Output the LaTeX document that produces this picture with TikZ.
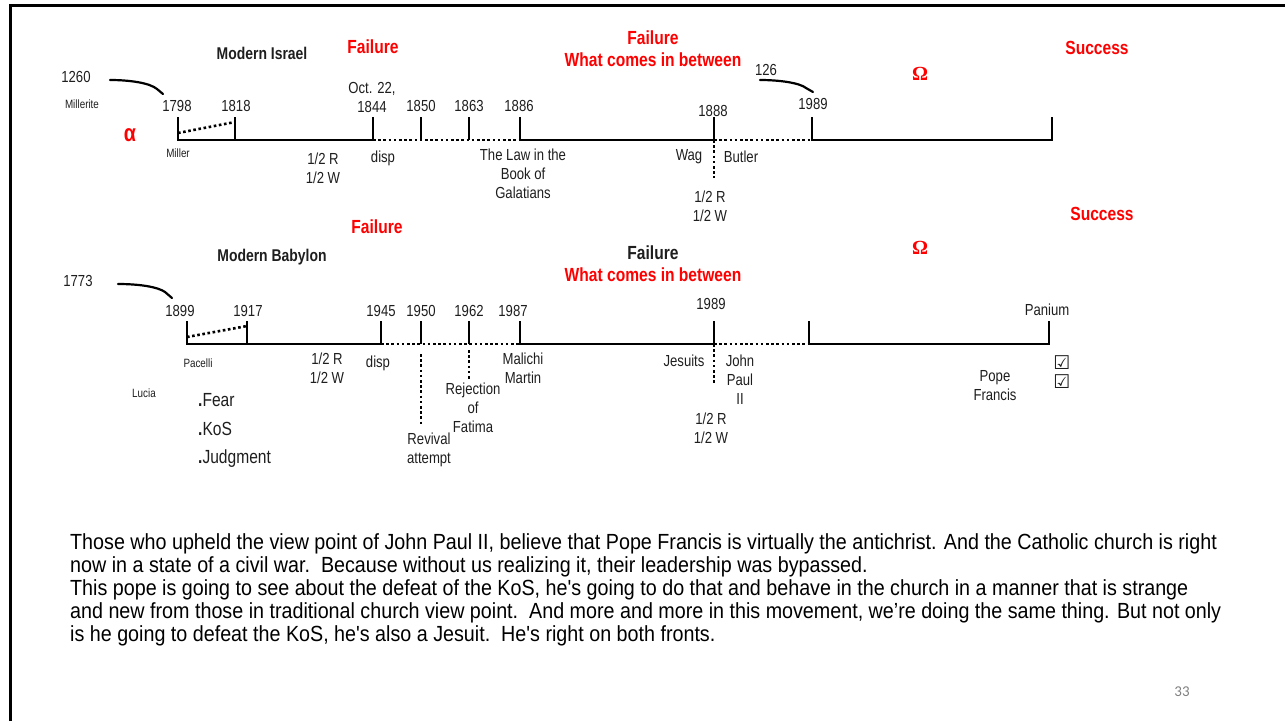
\documentclass[tikz,border=0pt]{standalone}
\usepackage{fontspec}
\setmainfont[FakeStretch=0.82]{Liberation Sans}
\newfontfamily\parafont[FakeStretch=0.9]{Liberation Sans}
\newfontfamily\symfont{DejaVu Sans}
\newfontfamily\serifb{Liberation Serif}
\newfontfamily\slidenum{Carlito}
\definecolor{fred}{RGB}{255,0,0}
\definecolor{txt}{RGB}{30,30,30}
\tikzset{
  lbl/.style={inner sep=0, text=txt, font=\fontsize{16}{19}\selectfont, align=center},
  sm/.style={inner sep=0, text=txt, font=\fontsize{12}{14}\selectfont},
  hd/.style={inner sep=0, text=txt, font=\bfseries\fontsize{17}{19}\selectfont},
  rd/.style={inner sep=0, text=fred, font=\bfseries\fontsize{19}{22}\selectfont, align=center},
  para/.style={inner sep=0, anchor=west, text=black, font=\parafont\fontsize{21.9}{23}\selectfont},
  axis/.style={line width=2.6pt},
  dots/.style={line width=2.6pt, dash pattern=on 2.6pt off 2.6pt},
  hand/.style={line width=2.2pt, line cap=round},
  frame/.style={line width=3pt}
}
\begin{document}
\begin{tikzpicture}[x=1pt,y=-1pt]
\useasboundingbox (0,0) rectangle (1285,721);
% frame
\coordinate (fl) at (10,721);
\coordinate (fc) at (10,5.5);
\coordinate (fr) at (1285,5.5);
\draw[frame] (fl) -- (fc) -- (fr);

% ===== top timeline =====
\foreach \n/\x in {a/178,b/235,c/373,d/421,e/469,f/520,g/714,h/812,i/1052}{
  \coordinate (T\n) at (\x,140);
  \coordinate (T\n u) at (\x,117);
}
\coordinate (Tbd) at (235,122);
\coordinate (Tad) at (178,133);
\draw[axis] (Tau) -- (Ta) -- (Tc) -- (Tcu);
\draw[axis] (Tb) -- (Tbu);
\draw[axis] (Td) -- (Tdu);
\draw[axis] (Te) -- (Teu);
\draw[axis] (Tfu) -- (Tf) -- (Tg) -- (Tgu);
\draw[axis] (Thu) -- (Th) -- (Ti) -- (Tiu);
\draw[dots] (Tc) -- (Tf);
\draw[dots] (Tg) -- (Th);
\draw[dots] (Tad) -- (Tbd);
\coordinate (Tgd) at (714,178);
\draw[dots] (Tg) -- (Tgd);

\node[lbl] (y1798) at (177,106) {1798};
\node[lbl] (y1818) at (236,106) {1818};
\node[lbl] (y1844) at (372,97) {Oct. 22,\\1844};
\node[lbl] (y1850) at (421,106) {1850};
\node[lbl] (y1863) at (469,106) {1863};
\node[lbl] (y1886) at (519,106) {1886};
\node[lbl] (y1888) at (713,111) {1888};
\node[lbl] (y1989a) at (813,104) {1989};
\node[lbl] (y1260) at (76,77) {1260};
\node[lbl] (y126) at (766,70) {126};
\node[sm] (millerite) at (82,104) {Millerite};
\node[sm] (miller) at (178,153) {Miller};
\node[inner sep=0, text=fred, font=\bfseries\fontsize{24}{26}\selectfont] (alpha) at (130,135) {α};
\node[hd] (misrael) at (262,53) {Modern Israel};
\node[rd] (fail1) at (373,47) {Failure};
\node[rd] (fail2) at (653,49) {Failure\\What comes in between};
\node[inner sep=0, text=fred, font=\serifb\bfseries\fontsize{20}{22}\selectfont] (om1) at (920,74) {Ω};
\node[rd] (succ1) at (1097,48) {Success};
\node[lbl] (rw1) at (323,168) {1/2 R\\1/2 W};
\node[lbl] (disp1) at (383,158) {disp};
\node[lbl] (law) at (523,173.5) {The Law in the\\Book of\\Galatians};
\node[lbl] (wag) at (689,157) {Wag};
\node[lbl] (butler) at (741,157) {Butler};
\node[lbl] (rw2) at (710,206.5) {1/2 R\\1/2 W};

\coordinate (h1a) at (110,80);
\coordinate (h1b) at (163,94);
\draw[hand] (h1a) .. controls (130,80) and (150,83) .. (157,89) -- (h1b);
\coordinate (h2a) at (760,80);
\coordinate (h2b) at (813,92);
\draw[hand] (h2a) .. controls (780,80) and (800,83) .. (806,88) -- (h2b);

% ===== bottom timeline =====
\foreach \n/\x in {a/187,b/247,c/381,d/421,e/469,f/520,g/714,h/809,i/1049}{
  \coordinate (B\n) at (\x,344);
  \coordinate (B\n u) at (\x,321);
}
\coordinate (Bbd) at (247,326);
\coordinate (Bad) at (187,337);
\draw[axis] (Bau) -- (Ba) -- (Bc) -- (Bcu);
\draw[axis] (Bb) -- (Bbu);
\draw[axis] (Bd) -- (Bdu);
\draw[axis] (Be) -- (Beu);
\draw[axis] (Bfu) -- (Bf) -- (Bg) -- (Bgu);
\draw[axis] (Bhu) -- (Bh) -- (Bi) -- (Biu);
\draw[dots] (Bc) -- (Bf);
\draw[dots] (Bg) -- (Bh);
\draw[dots] (Bad) -- (Bbd);
\coordinate (Bd1) at (421,354);
\coordinate (Bd2) at (421,425);
\draw[dots] (Bd1) -- (Bd2);
\coordinate (Be1) at (469,350);
\coordinate (Be2) at (469,380);
\draw[dots] (Be1) -- (Be2);
\coordinate (Bgd) at (714,385);
\draw[dots] (Bg) -- (Bgd);

\node[lbl] (z1773) at (78,281) {1773};
\node[lbl] (z1899) at (180,311) {1899};
\node[lbl] (z1917) at (248,311) {1917};
\node[lbl] (z1945) at (381,311) {1945};
\node[lbl] (z1950) at (421,311) {1950};
\node[lbl] (z1962) at (469,311) {1962};
\node[lbl] (z1987) at (513,311) {1987};
\node[lbl] (z1989) at (711,304) {1989};
\node[lbl] (panium) at (1047,310) {Panium};
\node[hd] (mbab) at (272,257) {Modern Babylon};
\node[rd] (fail3) at (377,227) {Failure};
\node[inner sep=0, text=txt, font=\bfseries\fontsize{19}{22}\selectfont] (fail4) at (653,253) {Failure};
\node[rd] (between2) at (653,275) {What comes in between};
\node[inner sep=0, text=fred, font=\serifb\bfseries\fontsize{20}{22}\selectfont] (om2) at (920,248) {Ω};
\node[rd] (succ2) at (1102,214) {Success};
\node[sm] (pacelli) at (198,363) {Pacelli};
\node[sm] (lucia) at (144,393) {Lucia};
\node[inner sep=0, text=txt, font=\fontsize{19}{28.5}\selectfont, align=left, anchor=west] (fks) at (198,430.5) {\textbf{.}Fear\\\textbf{.}KoS\\\textbf{.}Judgment};
\node[lbl] (rw3) at (327,368) {1/2 R\\1/2 W};
\node[lbl] (disp2) at (378,363) {disp};
\node[lbl] (revival) at (429,450) {Revival\\attempt};
\node[lbl] (fatima) at (473,407.5) {Rejection\\of\\Fatima};
\node[lbl] (malichi) at (523,368) {Malichi\\Martin};
\node[lbl] (jesuits) at (684,361) {Jesuits};
\node[lbl] (jp) at (740,380) {John\\Paul\\II};
\node[lbl] (rw4) at (711,428.5) {1/2 R\\1/2 W};
\node[lbl] (pope) at (995,386) {Pope\\Francis};
\node[inner sep=0, text=txt, font=\symfont\fontsize{19}{19}\selectfont, align=center] (chk) at (1062,372.5) {☑\\☑};

\coordinate (h3a) at (118,284);
\coordinate (h3b) at (172,298);
\draw[hand] (h3a) .. controls (140,284) and (158,287) .. (165,292) -- (h3b);

% ===== paragraph =====
\node[para] (p1) at (70,544) {Those who upheld the view point of John Paul II, believe that Pope Francis is virtually the antichrist. And the Catholic church is right};
\node[para] (p2) at (70,567) {now in a state of a civil war.\ \ Because without us realizing it, their leadership was bypassed.};
\node[para] (p3) at (70,590) {This pope is going to see about the defeat of the KoS, he's going to do that and behave in the church in a manner that is strange};
\node[para] (p4) at (70,613) {and new from those in traditional church view point.\ \ And more and more in this movement, we’re doing the same thing. But not only};
\node[para] (p5) at (70,636) {is he going to defeat the KoS, he's also a Jesuit.\ \ He's right on both fronts.};
\node[inner sep=0, text=black!50, font=\slidenum\fontsize{15}{17}\selectfont] (num) at (1182,692) {33};
\end{tikzpicture}
\end{document}
